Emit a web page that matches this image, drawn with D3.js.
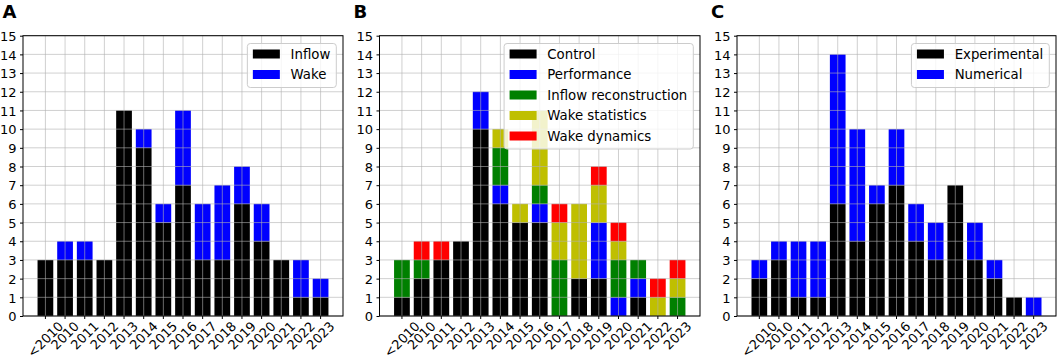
<!DOCTYPE html>
<html><head><meta charset="utf-8">
<script src="https://cdn.jsdelivr.net/npm/d3@7"></script>
<style>body{margin:0;background:#fff}</style>
</head><body><svg id="c" width="1059" height="360" style="background:#fff"></svg>
<script>
const categories = ["<2010","2010","2011","2012","2013","2014","2015","2016","2017","2018","2019","2020","2021","2022","2023"];
const yTicks = [0,1,2,3,4,5,6,7,8,9,10,11,12,13,14,15];

// Panel A
const inflowA = [3,3,3,3,11,9,5,7,3,3,6,4,3,1,1];
const wakeA   = [0,1,1,0,0,1,1,4,3,4,2,2,0,2,1];
// Panel B
const controlB     = [1,2,3,4,10,6,5,5,0,2,2,0,1,0,0];
const performanceB = [0,0,0,0,2,1,0,1,0,0,3,1,1,0,0];
const inflowRecB   = [2,1,0,0,0,2,0,1,3,0,0,2,1,0,1];
const wakeStatsB   = [0,0,0,0,0,1,1,4,2,4,2,1,0,1,1];
const wakeDynB     = [0,1,1,0,0,0,0,0,1,0,1,1,0,1,1];
// Panel C
const experimentalC = [2,3,1,1,6,4,6,7,4,3,7,3,2,1,0];
const numericalC    = [1,1,3,3,8,6,1,3,2,2,0,2,1,0,1];

const seriesA = [{name:"Inflow", values:inflowA, color:"#000000"},
                 {name:"Wake", values:wakeA, color:"#0000ff"}];
const seriesB = [{name:"Control", values:controlB, color:"#000000"},
                 {name:"Performance", values:performanceB, color:"#0000ff"},
                 {name:"Inflow reconstruction", values:inflowRecB, color:"#008000"},
                 {name:"Wake statistics", values:wakeStatsB, color:"#bfbf00"},
                 {name:"Wake dynamics", values:wakeDynB, color:"#ff0000"}];
const seriesC = [{name:"Experimental", values:experimentalC, color:"#000000"},
                 {name:"Numerical", values:numericalC, color:"#0000ff"}];

const panels = [
  {letter:"A", letterX:2.5, left:23, right:343, series:seriesA},
  {letter:"B", letterX:353.5, left:379.5, right:700, series:seriesB},
  {letter:"C", letterX:711, left:737, right:1056, series:seriesC}
];

const svg = d3.select("#c");
const TOP = 35.7, BOTTOM = 316;
const FONT = "DejaVu Sans";
const FS = 13;

panels.forEach(p => {
  const g = svg.append("g");
  const x = d3.scaleBand().domain(categories).range([p.left, p.right])
      .paddingInner(0.2).paddingOuter(0.74);
  const y = d3.scaleLinear().domain([0,15]).range([BOTTOM, TOP]);

  const table = categories.map((c,i) => {
    const o = {cat:c};
    p.series.forEach(s => o[s.name] = s.values[i]);
    return o;
  });
  const stack = d3.stack().keys(p.series.map(s => s.name))(table);

  // bars
  stack.forEach((layer, li) => {
    g.append("g").selectAll("rect").data(layer).join("rect")
      .attr("x", d => x(d.data.cat))
      .attr("width", x.bandwidth())
      .attr("y", d => y(d[1]))
      .attr("height", d => y(d[0]) - y(d[1]))
      .attr("fill", p.series[li].color);
  });

  // grid (drawn over bars)
  const grid = g.append("g").attr("stroke","#b0b0b0").attr("stroke-opacity",0.6).attr("stroke-width",1);
  grid.selectAll("line.h").data(yTicks).join("line").attr("class","h")
    .attr("x1", p.left).attr("x2", p.right)
    .attr("y1", d => y(d)).attr("y2", d => y(d));
  grid.selectAll("line.v").data(categories).join("line").attr("class","v")
    .attr("y1", TOP).attr("y2", BOTTOM)
    .attr("x1", d => x(d) + x.bandwidth()/2).attr("x2", d => x(d) + x.bandwidth()/2);

  // legend
  const lg = g.append("g");
  const rowH = 20.5, firstRow = 54;
  const texts = [];
  const tmp = lg.append("g");
  p.series.forEach((s,i) => {
    texts.push(tmp.append("text").attr("font-family",FONT).attr("font-size",13.3).text(s.name).node().getComputedTextLength());
  });
  tmp.remove();
  const maxW = d3.max(texts);
  const boxW = 5.5 + 27 + 10.7 + maxW + 6;
  const boxRight = p.right - 6.7;
  const boxLeft = boxRight - boxW;
  const boxTop = 43.5;
  const boxBottom = firstRow + rowH*(p.series.length-1) + 13;
  lg.append("rect").attr("x", boxLeft).attr("y", boxTop).attr("width", boxW).attr("height", boxBottom-boxTop)
    .attr("rx",3).attr("fill","#fff").attr("fill-opacity",0.8).attr("stroke","#cccccc").attr("stroke-width",1);
  p.series.forEach((s,i) => {
    const cy = firstRow + rowH*i;
    lg.append("rect").attr("x", boxLeft+5.5).attr("y", cy-4.5).attr("width",27).attr("height",9).attr("fill",s.color);
    lg.append("text").attr("x", boxLeft+5.5+27+10.7).attr("y", cy).attr("dy","0.37em")
      .attr("font-family",FONT).attr("font-size",13.3).attr("fill","#000").text(s.name);
  });

  // y axis
  const ya = g.append("g").attr("transform",`translate(${p.left},0)`)
    .call(d3.axisLeft(y).tickValues(yTicks).tickSize(3).tickPadding(3.5).tickFormat(d3.format("d")));
  ya.select(".domain").remove();
  ya.selectAll("text").attr("font-family",FONT).attr("font-size",FS).attr("fill","#000").attr("dy","0.36em");
  ya.selectAll("line").attr("stroke","#000");

  // x axis
  const xa = g.append("g").attr("transform",`translate(0,${BOTTOM})`)
    .call(d3.axisBottom(x).tickSize(3));
  xa.select(".domain").remove();
  xa.selectAll("line").attr("stroke","#000");
  xa.selectAll("text").attr("font-family",FONT).attr("font-size",FS).attr("fill","#000")
    .attr("text-anchor","middle").attr("dy",null).attr("y",0).attr("x",0)
    .attr("dominant-baseline","central")
    .each(function(){
      const L = this.getComputedTextLength();
      const H = 1.164*FS;
      const side = 0.7071*(L+H);
      d3.select(this).attr("transform",`translate(0,${2.5+side/2}) rotate(-45)`);
    });

  // frame
  g.append("rect").attr("x",p.left).attr("y",TOP).attr("width",p.right-p.left).attr("height",BOTTOM-TOP)
    .attr("fill","none").attr("stroke","#000").attr("stroke-width",1);

  // panel letter
  svg.append("text").attr("x",p.letterX).attr("y",17.5).attr("font-family","DejaVu Sans")
    .attr("font-weight","bold").attr("font-size",18).attr("fill","#000").text(p.letter);
});
</script></body></html>
